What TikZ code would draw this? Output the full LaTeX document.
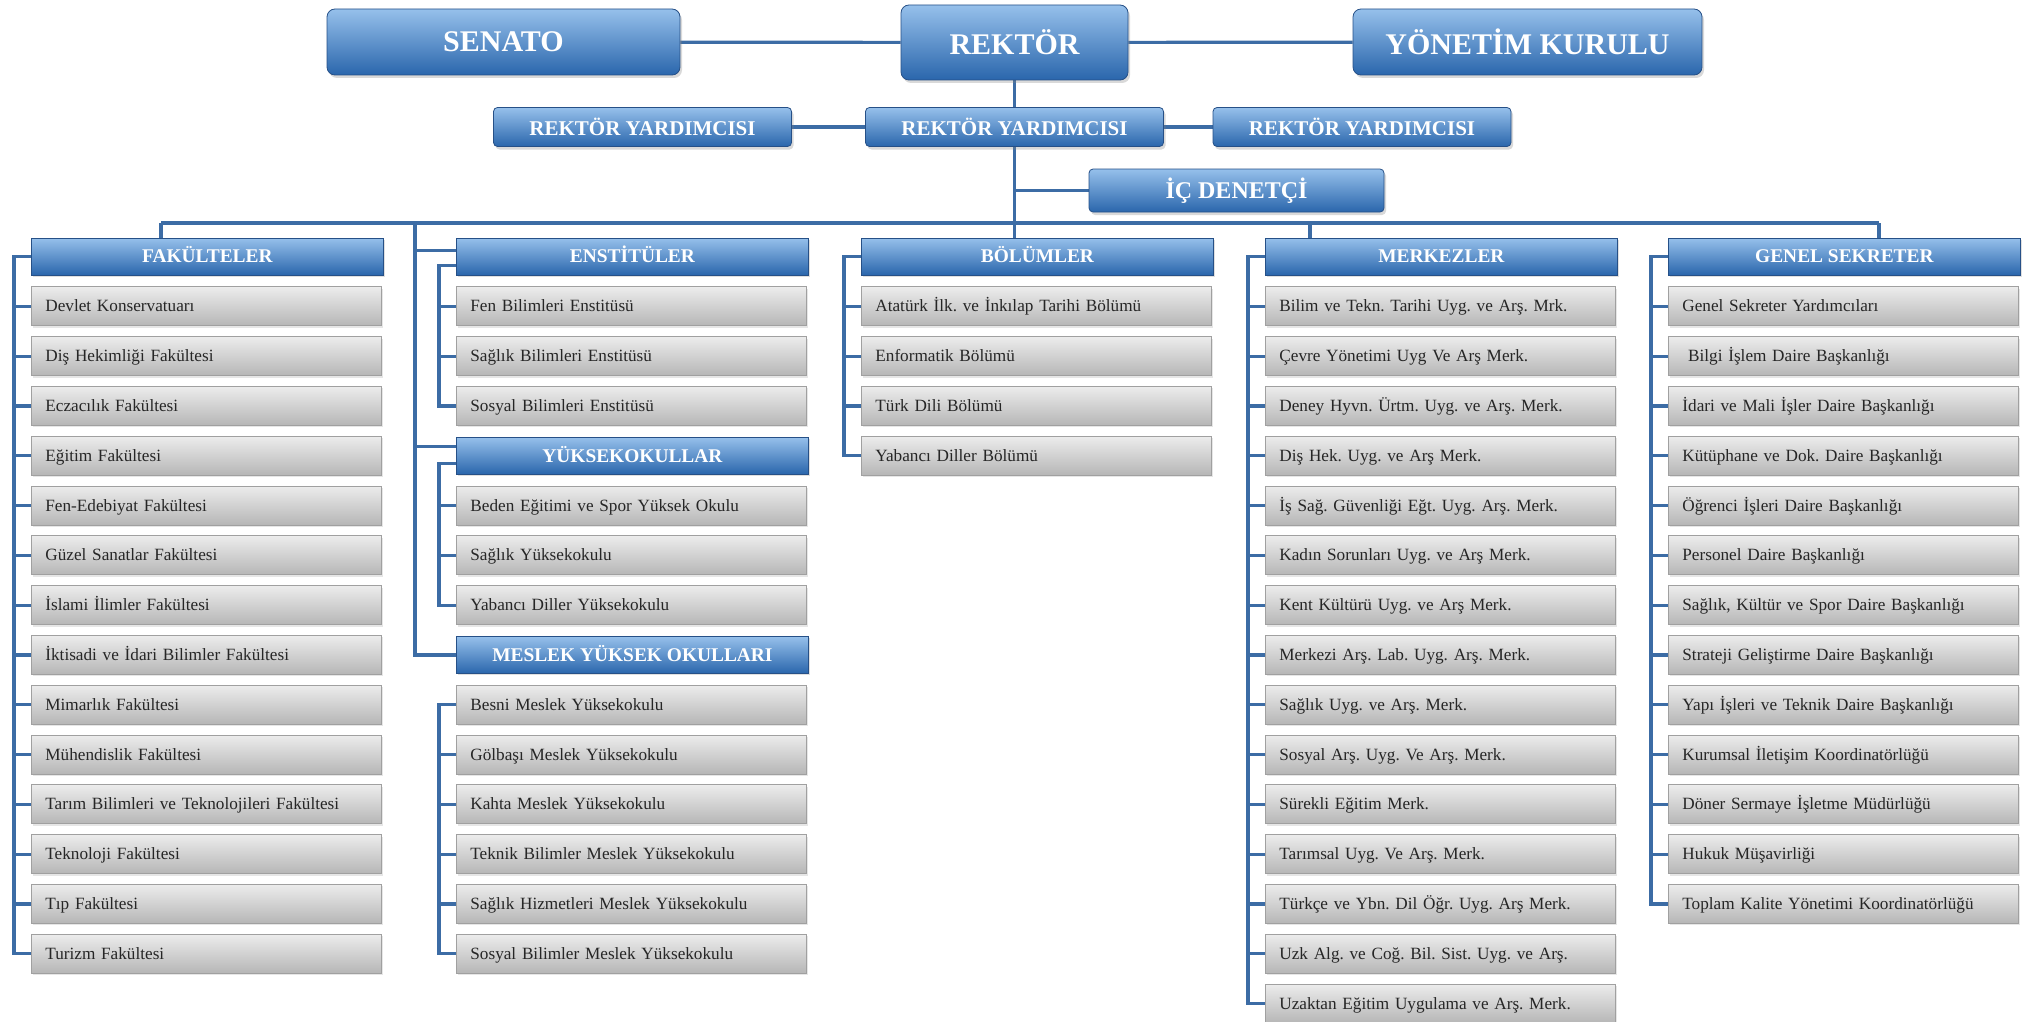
\documentclass[tikz,border=0pt]{standalone}
\usepackage{fontspec}
\setmainfont{Liberation Serif}
\usepackage{tikz}
\usetikzlibrary{positioning,calc,shadows,backgrounds}

\definecolor{linkblue}{RGB}{60,108,165}
\definecolor{blueTop}{RGB}{150,192,235}
\definecolor{blueBot}{RGB}{42,102,172}
\definecolor{blueEdge}{RGB}{38,80,135}
\definecolor{greyTop}{RGB}{236,236,236}
\definecolor{greyBot}{RGB}{182,182,182}
\definecolor{greyEdge}{RGB}{160,160,160}
\frenchspacing

\begin{document}
\begin{tikzpicture}[
    x=0.5pt, y=-0.5pt,
    chief/.style={rectangle, draw=blueEdge, top color=blueTop, bottom color=blueBot, text=white, rounded corners=4pt, font=\bfseries\fontsize{15}{18}\selectfont, drop shadow={shadow xshift=1pt, shadow yshift=-1.5pt, opacity=0.3}},
    deputy/.style={chief, rounded corners=2pt, minimum width=149pt, minimum height=19.5pt, font=\bfseries\fontsize{10.5}{12}\selectfont},
    head/.style={rectangle, draw=blueEdge, top color=blueTop, bottom color=blueBot, text=white, minimum width=176pt, minimum height=18.5pt, text height=1.6ex, text depth=0.2ex, font=\bfseries\fontsize{9.7}{11}\selectfont, anchor=west, drop shadow={shadow xshift=0.8pt, shadow yshift=-1pt, opacity=0.25}},
    unit/.style={rectangle, draw=greyEdge, top color=greyTop, bottom color=greyBot, text=black!85, inner xsep=7pt, text width=161pt, align=left, minimum height=19.5pt, text height=1.6ex, text depth=0.4ex, font=\fontsize{8.6}{10}\selectfont, anchor=west, drop shadow={shadow xshift=0.8pt, shadow yshift=-1pt, opacity=0.2}},
    link/.style={draw=linkblue, line width=1.6pt}
]
    \useasboundingbox (0,0) rectangle (2028,1022);

    % top management
    \node[chief, minimum width=176.5pt, minimum height=33pt] (senato) at (503.5,42) {SENATO};
    \node[chief, minimum width=113.5pt, minimum height=37.5pt] (rektor) at (1014.5,42.5) {REKTÖR};
    \node[chief, minimum width=174.5pt, minimum height=33pt] (yonetim) at (1527.5,42) {YÖNETİM KURULU};

    \node[deputy] (ry1) at (642.5,127) {REKTÖR YARDIMCISI};
    \node[deputy] (ry2) at (1014.5,127) {REKTÖR YARDIMCISI};
    \node[deputy] (ry3) at (1362,127) {REKTÖR YARDIMCISI};
    \node[deputy, minimum width=147.5pt, minimum height=21.5pt, font=\bfseries\fontsize{12}{14}\selectfont] (icd) at (1236.5,190.5) {İÇ DENETÇİ};

    % group headers
    \node[head] (fak) at (31,256.5) {FAKÜLTELER};
    \node[head] (enst) at (456,256.5) {ENSTİTÜLER};
    \node[head] (yuk) at (456,{256.5+49.8*4}) {YÜKSEKOKULLAR};
    \node[head] (myo) at (456,{256.5+49.8*8}) {MESLEK YÜKSEK OKULLARI};
    \node[head] (bol) at (861,256.5) {BÖLÜMLER};
    \node[head] (merk) at (1265,256.5) {MERKEZLER};
    \node[head] (gen) at (1668,256.5) {GENEL SEKRETER};

    % units
    \foreach \t [count=\i] in {Devlet Konservatuarı, Diş Hekimliği Fakültesi, Eczacılık Fakültesi, Eğitim Fakültesi, Fen-Edebiyat Fakültesi, Güzel Sanatlar Fakültesi, İslami İlimler Fakültesi, İktisadi ve İdari Bilimler Fakültesi, Mimarlık Fakültesi, Mühendislik Fakültesi, Tarım Bilimleri ve Teknolojileri Fakültesi, Teknoloji Fakültesi, Tıp Fakültesi, Turizm Fakültesi}
        \node[unit] (fak-\i) at (31,{256.5+49.8*\i}) {\t};
    \foreach \t [count=\i] in {Fen Bilimleri Enstitüsü, Sağlık Bilimleri Enstitüsü, Sosyal Bilimleri Enstitüsü}
        \node[unit] (enst-\i) at (456,{256.5+49.8*\i}) {\t};
    \foreach \t [count=\i] in {Beden Eğitimi ve Spor Yüksek Okulu, Sağlık Yüksekokulu, Yabancı Diller Yüksekokulu}
        \node[unit] (yuk-\i) at (456,{256.5+49.8*(4+\i)}) {\t};
    \foreach \t [count=\i] in {Besni Meslek Yüksekokulu, Gölbaşı Meslek Yüksekokulu, Kahta Meslek Yüksekokulu, Teknik Bilimler Meslek Yüksekokulu, Sağlık Hizmetleri Meslek Yüksekokulu, Sosyal Bilimler Meslek Yüksekokulu}
        \node[unit] (myo-\i) at (456,{256.5+49.8*(8+\i)}) {\t};
    \foreach \t [count=\i] in {Atatürk İlk. ve İnkılap Tarihi Bölümü, Enformatik Bölümü, Türk Dili Bölümü, Yabancı Diller Bölümü}
        \node[unit] (bol-\i) at (861,{256.5+49.8*\i}) {\t};
    \foreach \t [count=\i] in {Bilim ve Tekn. Tarihi Uyg. ve Arş. Mrk., Çevre Yönetimi Uyg Ve Arş Merk., Deney Hyvn. Ürtm. Uyg. ve Arş. Merk., Diş Hek. Uyg. ve Arş Merk., İş Sağ. Güvenliği Eğt. Uyg. Arş. Merk., Kadın Sorunları Uyg. ve Arş Merk., Kent Kültürü Uyg. ve Arş Merk., Merkezi Arş. Lab. Uyg. Arş. Merk., Sağlık Uyg. ve Arş. Merk., Sosyal Arş. Uyg. Ve Arş. Merk., Sürekli Eğitim Merk., Tarımsal Uyg. Ve Arş. Merk., Türkçe ve Ybn. Dil Öğr. Uyg. Arş Merk., Uzk Alg. ve Coğ. Bil. Sist. Uyg. ve Arş., Uzaktan Eğitim Uygulama ve Arş. Merk.}
        \node[unit] (merk-\i) at (1265,{256.5+49.8*\i}) {\t};
    \foreach \t [count=\i] in {Genel Sekreter Yardımcıları, \ Bilgi İşlem Daire Başkanlığı, İdari ve Mali İşler Daire Başkanlığı, Kütüphane ve Dok. Daire Başkanlığı, Öğrenci İşleri Daire Başkanlığı, Personel Daire Başkanlığı, {Sağlık, Kültür ve Spor Daire Başkanlığı}, Strateji Geliştirme Daire Başkanlığı, Yapı İşleri ve Teknik Daire Başkanlığı, Kurumsal İletişim Koordinatörlüğü, Döner Sermaye İşletme Müdürlüğü, Hukuk Müşavirliği, Toplam Kalite Yönetimi Koordinatörlüğü}
        \node[unit] (gen-\i) at (1668,{256.5+49.8*\i}) {\t};

    \begin{scope}[on background layer]
        % top lines
        \draw[link] (senato) -- (rektor) -- (yonetim);
        \draw[link] (rektor) -- (ry2);
        \draw[link] (ry1) -- (ry3);
        \draw[link] (ry2.south) -- (ry2.south |- bol.north);
        \draw[link] (icd.west) -- (icd.west -| ry2.south);

        % bus
        \coordinate (busL) at (161,223);
        \coordinate (busR) at (1879,223);
        \coordinate (enstbar) at (415,223);
        \coordinate (merkdrop) at (1310,223);
        \draw[link] (busL) -- (busR);
        \draw[link] (busL) -- (busL |- fak.north);
        \draw[link] (merkdrop) -- (merkdrop |- merk.north);
        \draw[link] (busR) -- (busR |- gen.north);
        \draw[link] (enstbar) |- (myo.west);
        \draw[link] ([yshift=3pt]enst.west) -- +(-41,0);
        \draw[link] ([yshift=4.5pt]yuk.west) -- +(-41,0);

        % brackets
        \draw[link] (fak.west) -- ++(-17,0) |- (fak-14.west);
        \foreach \i in {1,...,13} \draw[link] (fak-\i.west) -- ++(-17,0);
        \draw[link] ([yshift=-4.5pt]enst.west) -- ++(-17,0) |- (enst-3.west);
        \foreach \i in {1,2} \draw[link] (enst-\i.west) -- ++(-17,0);
        \draw[link] ([yshift=-4pt]yuk.west) -- ++(-17,0) |- (yuk-3.west);
        \foreach \i in {1,2} \draw[link] (yuk-\i.west) -- ++(-17,0);
        \draw[link] (myo-1.west) -- ++(-17,0) |- (myo-6.west);
        \foreach \i in {2,...,5} \draw[link] (myo-\i.west) -- ++(-17,0);
        \draw[link] (bol.west) -- ++(-17,0) |- (bol-4.west);
        \foreach \i in {1,2,3} \draw[link] (bol-\i.west) -- ++(-17,0);
        \draw[link] (merk.west) -- ++(-17,0) |- (merk-15.west);
        \foreach \i in {1,...,14} \draw[link] (merk-\i.west) -- ++(-17,0);
        \draw[link] (gen.west) -- ++(-17,0) |- (gen-13.west);
        \foreach \i in {1,...,12} \draw[link] (gen-\i.west) -- ++(-17,0);
    \end{scope}
\end{tikzpicture}
\end{document}
